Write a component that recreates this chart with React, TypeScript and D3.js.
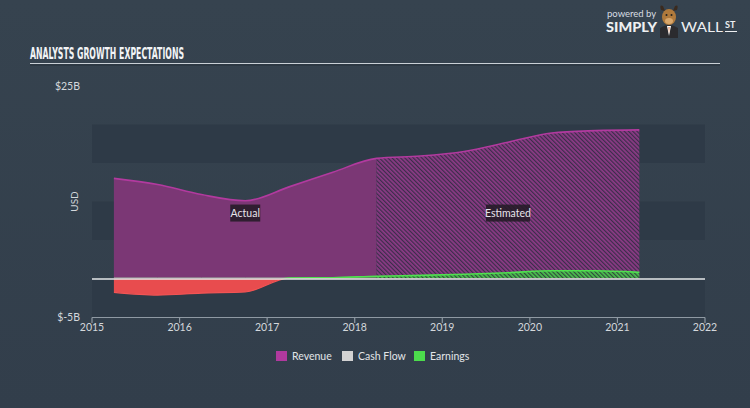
import React from "react";
import * as d3 from "d3";

const years = [2015.25, 2015.75, 2016.25, 2016.75, 2017.25, 2017.75, 2018.25, 2018.75, 2019.25, 2019.75, 2020.25, 2020.75, 2021.25];
const revenue = [13.0, 12.2, 10.9, 10.1, 11.9, 13.8, 15.6, 15.9, 16.5, 17.7, 18.9, 19.2, 19.3];
const earnings = [-1.8, -2.15, -1.9, -1.75, 0.05, 0.1, 0.3, 0.4, 0.55, 0.75, 1.0, 1.0, 0.8];
const cashFlowYears = [2015.25, 2015.75, 2016.25, 2016.75, 2017.25, 2017.75, 2018.25];
const cashFlow = [0.1, 0.1, 0.1, 0.1, 0.1, 0.1, 0.2];
const lastActual = 2018.25;
const xTicks = [2015, 2016, 2017, 2018, 2019, 2020, 2021, 2022];
const yTickValues = [25, -5];
const yTickLabels = ["$25B", "$-5B"];
const legendItems = ["Revenue", "Cash Flow", "Earnings"];
const legendColors = ["#b0399e", "#d2d2d2", "#4cdc4c"];

const W = 750;
const H = 408;

export default function App() {
  const x = d3.scaleLinear().domain([2015, 2022]).range([92, 705]);
  const y = d3.scaleLinear().domain([-5, 25]).range([317, 86]);
  const y0 = y(0);

  const revPts = years.map((t, i) => [t, revenue[i]] as [number, number]);
  const earnPts = years.map((t, i) => [t, earnings[i]] as [number, number]);
  const cfPts = cashFlowYears.map((t, i) => [t, cashFlow[i]] as [number, number]);

  const area = d3
    .area<[number, number]>()
    .x((d) => x(d[0]))
    .y0(y0)
    .y1((d) => y(d[1]))
    .curve(d3.curveMonotoneX);
  const line = d3
    .line<[number, number]>()
    .x((d) => x(d[0]))
    .y((d) => y(d[1]))
    .curve(d3.curveMonotoneX);

  const xSplit = x(lastActual);
  const bandStarts = [-5, 5, 15];
  const font = "Lato, 'Open Sans', sans-serif";

  const legendX = [276, 342, 414];

  return (
    <svg width={W} height={H} style={{ position: "absolute", left: 0, top: 0 }}>
      <defs>
        <linearGradient id="bg" x1="0" y1="0" x2="0" y2="1">
          <stop offset="0" stopColor="#36434f" />
          <stop offset="1" stopColor="#323e4b" />
        </linearGradient>
        <pattern id="hatchRev" width="3" height="3" patternUnits="userSpaceOnUse" patternTransform="rotate(-45)">
          <rect width="3" height="3" fill="#8c3b86" />
          <rect width="1.2" height="3" fill="#3b2d4a" />
        </pattern>
        <pattern id="hatchEarn" width="3" height="3" patternUnits="userSpaceOnUse" patternTransform="rotate(-45)">
          <rect width="3" height="3" fill="#4cc04e" />
          <rect width="1.2" height="3" fill="#2f4a3c" />
        </pattern>
        <clipPath id="clipActual">
          <rect x={0} y={0} width={xSplit} height={H} />
        </clipPath>
        <clipPath id="clipEst">
          <rect x={xSplit} y={0} width={W - xSplit} height={H} />
        </clipPath>
        <clipPath id="clipPos">
          <rect x={0} y={0} width={W} height={y0} />
        </clipPath>
        <clipPath id="clipNeg">
          <rect x={0} y={y0} width={W} height={H - y0} />
        </clipPath>
      </defs>

      <rect width={W} height={H} fill="url(#bg)" />

      {/* logo */}
      <g fontFamily={font}>
        <text x={607} y={17} fontSize={9.5} fill="#d8dde2">powered by</text>
        <text x={606} y={32} fontSize={13.5} fontWeight={900} fill="#eef0f2" textLength={51} lengthAdjust="spacingAndGlyphs">SIMPLY</text>
        <g>
          <path d="M661,10 Q659,4 663,6 L665,11 Z" fill="#3a2a1e" />
          <path d="M677,10 Q679,4 675,6 L673,11 Z" fill="#3a2a1e" />
          <path d="M660,38 L660,28 Q669,22 678,28 L678,38 Z" fill="#2b2b2f" />
          <path d="M667,26 L669,36 L671,26 Z" fill="#ffffff" />
          <path d="M668.5,27 L669,34 L669.5,27 Z" fill="#e0682a" />
          <ellipse cx={669} cy={17} rx={7} ry={8} fill="#b07a3c" />
          <ellipse cx={669} cy={21} rx={4} ry={3} fill="#d9a76b" />
          <circle cx={666.5} cy={15} r={1} fill="#222" />
          <circle cx={671.5} cy={15} r={1} fill="#222" />
        </g>
        <text x={681} y={32} fontSize={13.5} fill="#eef0f2" textLength={42} lengthAdjust="spacingAndGlyphs">WALL</text>
        <text x={725} y={28} fontSize={9} fontWeight={700} fill="#eef0f2">ST</text>
        <line x1={725} y1={31.5} x2={737} y2={31.5} stroke="#eef0f2" strokeWidth={1} />
      </g>

      {/* title */}
      <text
        x={30}
        y={59}
        fontFamily="'Liberation Sans Narrow', 'DejaVu Sans Condensed', sans-serif"
        fontWeight={700}
        fontSize={15}
        fill="#f2f4f6"
        textLength={154}
        lengthAdjust="spacingAndGlyphs"
      >
        ANALYSTS GROWTH EXPECTATIONS
      </text>
      <line x1={30} y1={63.5} x2={720} y2={63.5} stroke="#c9d0d6" strokeWidth={1.2} />
      <line x1={30} y1={65} x2={720} y2={65} stroke="#242e38" strokeWidth={1} />

      {/* bands */}
      {bandStarts.map((v) => (
        <rect key={v} x={x(2015)} y={y(v + 5)} width={x(2022) - x(2015)} height={y(v) - y(v + 5)} fill="#2e3a47" />
      ))}

      {/* revenue */}
      <path d={area(revPts) || ""} fill="#7b3775" clipPath="url(#clipActual)" />
      <path d={area(revPts) || ""} fill="url(#hatchRev)" clipPath="url(#clipEst)" />
      <path d={line(revPts) || ""} fill="none" stroke="#b23a9f" strokeWidth={1.6} />

      {/* cash flow */}
      <path d={line(cfPts) || ""} fill="none" stroke="#9aa09a" strokeWidth={1} opacity={0.8} />

      {/* earnings */}
      <g clipPath="url(#clipNeg)">
        <path d={area(earnPts) || ""} fill="#e84c4e" />
        <path d={line(earnPts) || ""} fill="none" stroke="#f25454" strokeWidth={1.2} />
      </g>
      <g clipPath="url(#clipPos)">
        <g clipPath="url(#clipActual)">
          <path d={area(earnPts) || ""} fill="#5a8a5a" />
        </g>
        <g clipPath="url(#clipEst)">
          <path d={area(earnPts) || ""} fill="url(#hatchEarn)" />
        </g>
        <path d={line(earnPts) || ""} fill="none" stroke="#4fe04f" strokeWidth={1.6} />
      </g>

      {/* zero line */}
      <line x1={x(2015)} y1={y0 + 0.5} x2={x(2022)} y2={y0 + 0.5} stroke="#e6e8ea" strokeWidth={1.4} />

      {/* actual / estimated labels */}
      <g fontFamily={font} fontSize={10.5} fill="#e8e4ea" textAnchor="middle">
        <rect x={x(2016.75) - 15} y={y(8.5) - 8.5} width={30} height={17} fill="#241b27" opacity={0.88} />
        <text x={x(2016.75)} y={y(8.5) + 3.6}>Actual</text>
        <rect x={x(2019.75) - 22} y={y(8.5) - 8.5} width={44} height={17} fill="#241b27" opacity={0.88} />
        <text x={x(2019.75)} y={y(8.5) + 3.6}>Estimated</text>
      </g>

      {/* x axis */}
      <line x1={x(2015)} y1={317.5} x2={x(2022)} y2={317.5} stroke="#8f99a3" strokeWidth={1.2} />
      {xTicks.map((t) => (
        <g key={t}>
          <line x1={x(t)} y1={317.5} x2={x(t)} y2={323} stroke="#8f99a3" strokeWidth={1.2} />
          <text x={x(t)} y={331} fontFamily={font} fontSize={10.5} fill="#d4d8dc" textAnchor="middle">
            {t}
          </text>
        </g>
      ))}

      {/* y labels */}
      {yTickValues.map((v, i) => (
        <text key={v} x={80} y={y(v) + 3.5} fontFamily={font} fontSize={10.5} fill="#d4d8dc" textAnchor="end">
          {yTickLabels[i]}
        </text>
      ))}
      <text
        x={0}
        y={0}
        transform={`translate(78, ${y(10)}) rotate(-90)`}
        fontFamily={font}
        fontSize={10}
        fill="#d4d8dc"
        textAnchor="middle"
      >
        USD
      </text>

      {/* legend */}
      {legendItems.map((name, i) => (
        <g key={name}>
          <rect x={legendX[i]} y={351} width={11} height={10} fill={legendColors[i]} />
          <text x={legendX[i] + 16} y={359.5} fontFamily={font} fontSize={10.5} fill="#e2e5e8">
            {name}
          </text>
        </g>
      ))}
    </svg>
  );
}
